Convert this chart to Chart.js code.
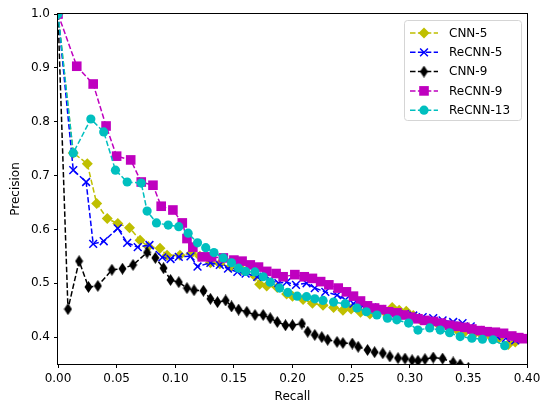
<!DOCTYPE html>
<html>
<head>
<meta charset="utf-8">
<script src="https://cdn.jsdelivr.net/npm/chart.js@4.4.0/dist/chart.umd.min.js"></script>
<style>
  html, body { margin: 0; padding: 0; background: #fff; }
  #wrap { width: 541px; height: 404px; }
</style>
</head>
<body>
<div id="wrap"><canvas id="prChart" width="541" height="404"></canvas></div>
<script>
'use strict';

// ── Data ────────────────────────────────────────────────
const xTickValues = [0, 0.05, 0.10, 0.15, 0.20, 0.25, 0.30, 0.35, 0.40];
const yTickValues = [0.4, 0.5, 0.6, 0.7, 0.8, 0.9, 1.0];

const seriesNames = ['CNN-5', 'ReCNN-5', 'CNN-9', 'ReCNN-9', 'ReCNN-13'];

const cnn5Recall = [0, 0.013, 0.025, 0.033, 0.042, 0.051, 0.061, 0.070, 0.077, 0.087, 0.093, 0.104, 0.114, 0.121, 0.130, 0.138, 0.147, 0.157, 0.168, 0.172, 0.178, 0.187, 0.195, 0.200, 0.209, 0.217, 0.226, 0.235, 0.243, 0.250, 0.258, 0.266, 0.272, 0.278, 0.285, 0.291, 0.297, 0.303, 0.309, 0.317, 0.325, 0.333, 0.340, 0.347, 0.355, 0.362, 0.369, 0.376, 0.384, 0.390];
const cnn5Precision = [1.0, 0.742, 0.722, 0.648, 0.620, 0.611, 0.603, 0.580, 0.568, 0.565, 0.552, 0.552, 0.556, 0.550, 0.538, 0.536, 0.530, 0.525, 0.513, 0.498, 0.495, 0.492, 0.480, 0.476, 0.470, 0.463, 0.459, 0.455, 0.450, 0.452, 0.446, 0.443, 0.445, 0.448, 0.455, 0.450, 0.448, 0.440, 0.432, 0.428, 0.422, 0.418, 0.414, 0.410, 0.406, 0.403, 0.401, 0.398, 0.386, 0.391];

const recnn5Recall = [0, 0.013, 0.024, 0.030, 0.039, 0.051, 0.059, 0.068, 0.078, 0.089, 0.096, 0.103, 0.113, 0.119, 0.130, 0.138, 0.145, 0.153, 0.160, 0.170, 0.181, 0.188, 0.195, 0.203, 0.212, 0.219, 0.228, 0.238, 0.245, 0.252, 0.260, 0.268, 0.275, 0.282, 0.289, 0.296, 0.303, 0.311, 0.320, 0.328, 0.337, 0.345, 0.352, 0.358, 0.366, 0.374, 0.382, 0.390];
const recnn5Precision = [1.0, 0.710, 0.688, 0.573, 0.578, 0.602, 0.575, 0.567, 0.571, 0.548, 0.545, 0.549, 0.550, 0.531, 0.538, 0.534, 0.527, 0.521, 0.518, 0.512, 0.506, 0.500, 0.502, 0.497, 0.500, 0.491, 0.484, 0.478, 0.469, 0.462, 0.458, 0.455, 0.452, 0.448, 0.446, 0.443, 0.440, 0.437, 0.435, 0.431, 0.428, 0.426, 0.420, 0.413, 0.408, 0.402, 0.398, 0.394];

const cnn9Recall = [0, 0.0085, 0.018, 0.026, 0.034, 0.046, 0.055, 0.064, 0.076, 0.083, 0.090, 0.096, 0.103, 0.110, 0.116, 0.124, 0.130, 0.136, 0.143, 0.148, 0.154, 0.161, 0.168, 0.175, 0.181, 0.187, 0.194, 0.200, 0.208, 0.213, 0.219, 0.225, 0.230, 0.238, 0.243, 0.251, 0.256, 0.264, 0.270, 0.277, 0.283, 0.290, 0.296, 0.302, 0.307, 0.313, 0.320, 0.328, 0.337, 0.343, 0.350];
const cnn9Precision = [1.0, 0.452, 0.541, 0.493, 0.495, 0.525, 0.527, 0.534, 0.557, 0.547, 0.528, 0.506, 0.502, 0.491, 0.487, 0.486, 0.471, 0.465, 0.468, 0.457, 0.451, 0.447, 0.441, 0.441, 0.435, 0.428, 0.422, 0.422, 0.425, 0.410, 0.404, 0.400, 0.395, 0.391, 0.389, 0.388, 0.382, 0.376, 0.372, 0.370, 0.364, 0.361, 0.360, 0.357, 0.356, 0.359, 0.362, 0.360, 0.353, 0.349, 0.343];

const recnn9Recall = [0, 0.016, 0.030, 0.041, 0.050, 0.062, 0.071, 0.081, 0.088, 0.098, 0.106, 0.110, 0.115, 0.123, 0.131, 0.141, 0.150, 0.157, 0.164, 0.171, 0.178, 0.186, 0.192, 0.202, 0.210, 0.217, 0.224, 0.231, 0.239, 0.246, 0.252, 0.258, 0.264, 0.270, 0.276, 0.282, 0.289, 0.295, 0.301, 0.307, 0.313, 0.320, 0.327, 0.334, 0.340, 0.347, 0.353, 0.360, 0.366, 0.373, 0.380, 0.387, 0.393, 0.397];
const recnn9Precision = [1.0, 0.903, 0.870, 0.792, 0.736, 0.729, 0.688, 0.682, 0.643, 0.636, 0.612, 0.583, 0.567, 0.549, 0.549, 0.547, 0.543, 0.541, 0.534, 0.530, 0.522, 0.518, 0.512, 0.516, 0.512, 0.509, 0.503, 0.497, 0.491, 0.484, 0.476, 0.467, 0.458, 0.454, 0.451, 0.447, 0.445, 0.441, 0.437, 0.434, 0.431, 0.429, 0.426, 0.422, 0.420, 0.418, 0.415, 0.412, 0.410, 0.409, 0.407, 0.402, 0.399, 0.397];

const recnn13Recall = [0, 0.013, 0.028, 0.039, 0.049, 0.059, 0.071, 0.076, 0.084, 0.094, 0.103, 0.111, 0.119, 0.126, 0.133, 0.141, 0.148, 0.154, 0.160, 0.168, 0.175, 0.181, 0.189, 0.196, 0.204, 0.212, 0.219, 0.226, 0.235, 0.245, 0.255, 0.263, 0.272, 0.281, 0.289, 0.299, 0.307, 0.317, 0.326, 0.334, 0.343, 0.353, 0.362, 0.371, 0.381];
const recnn13Precision = [1.0, 0.742, 0.805, 0.781, 0.710, 0.688, 0.686, 0.634, 0.612, 0.608, 0.605, 0.593, 0.575, 0.566, 0.557, 0.547, 0.538, 0.528, 0.522, 0.521, 0.512, 0.502, 0.491, 0.483, 0.476, 0.475, 0.471, 0.468, 0.465, 0.462, 0.454, 0.447, 0.441, 0.435, 0.432, 0.426, 0.413, 0.417, 0.413, 0.408, 0.401, 0.398, 0.396, 0.395, 0.384];

// ── Styles (matplotlib y / b / k / m / c) ───────────────
const FONT = "'DejaVu Sans', sans-serif";
const DASH = [5.5, 2.4];

// thin diamond marker ('d') as a small canvas
function thinDiamond(color) {
    const c = document.createElement('canvas');
    c.width = 9; c.height = 12;
    const g = c.getContext('2d');
    g.fillStyle = color;
    g.beginPath();
    g.moveTo(4.5, 0); g.lineTo(8.5, 6); g.lineTo(4.5, 12); g.lineTo(0.5, 6);
    g.closePath(); g.fill();
    return c;
}

const STYLES = [
    { color: '#bfbf00', marker: 'rectRot',  radius: 5.5, order: 4 },
    { color: '#0000ff', marker: 'crossRot', radius: 5.5, order: 3 },
    { color: '#000000', marker: thinDiamond('#000000'), radius: 6, order: 2 },
    { color: '#bf00bf', marker: 'rect',     radius: 6.8, order: 1 },
    { color: '#00bfbf', marker: 'circle',   radius: 4.6, order: 0 },
];

const toPts = (xs, ys) => xs.map((x, i) => ({ x, y: ys[i] }));
const seriesData = [
    toPts(cnn5Recall, cnn5Precision),
    toPts(recnn5Recall, recnn5Precision),
    toPts(cnn9Recall, cnn9Precision),
    toPts(recnn9Recall, recnn9Precision),
    toPts(recnn13Recall, recnn13Precision),
];

// ── Frame + legend plugin ───────────────────────────────
function drawMarker(ctx, st, x, y) {
    ctx.save();
    ctx.fillStyle = st.color;
    ctx.strokeStyle = st.color;
    ctx.lineWidth = 1.5;
    ctx.setLineDash([]);
    const r = st.radius;
    if (typeof st.marker !== 'string') {
        ctx.drawImage(st.marker, x - st.marker.width / 2, y - st.marker.height / 2);
    } else if (st.marker === 'circle') {
        ctx.beginPath(); ctx.arc(x, y, r, 0, Math.PI * 2); ctx.fill();
    } else if (st.marker === 'rect') {
        const s = r * Math.SQRT1_2;
        ctx.fillRect(x - s, y - s, 2 * s, 2 * s);
    } else if (st.marker === 'rectRot') {
        ctx.beginPath();
        ctx.moveTo(x, y - r); ctx.lineTo(x + r, y); ctx.lineTo(x, y + r); ctx.lineTo(x - r, y);
        ctx.closePath(); ctx.fill();
    } else if (st.marker === 'crossRot') {
        const s = r * Math.SQRT1_2;
        ctx.beginPath();
        ctx.moveTo(x - s, y - s); ctx.lineTo(x + s, y + s);
        ctx.moveTo(x + s, y - s); ctx.lineTo(x - s, y + s);
        ctx.stroke();
    }
    ctx.restore();
}

const frameLegend = {
    id: 'frameLegend',
    afterDraw(chart) {
        const { ctx, chartArea: a } = chart;
        ctx.save();
        ctx.strokeStyle = '#000';
        ctx.lineWidth = 1;
        ctx.strokeRect(Math.round(a.left) - 0.5, Math.round(a.top) - 0.5,
                       Math.round(a.right - a.left) + 1, Math.round(a.bottom - a.top) + 1);

        // legend box, upper right
        const bx = 404.5, by = 20.5, bw = 117, bh = 100, rr = 3;
        ctx.beginPath();
        ctx.moveTo(bx + rr, by);
        ctx.arcTo(bx + bw, by, bx + bw, by + bh, rr);
        ctx.arcTo(bx + bw, by + bh, bx, by + bh, rr);
        ctx.arcTo(bx, by + bh, bx, by, rr);
        ctx.arcTo(bx, by, bx + bw, by, rr);
        ctx.closePath();
        ctx.fillStyle = 'rgba(255,255,255,0.8)';
        ctx.fill();
        ctx.strokeStyle = '#d5d5d5';
        ctx.stroke();

        ctx.font = '12px ' + FONT;
        ctx.textBaseline = 'middle';
        ctx.textAlign = 'left';
        seriesNames.forEach((name, i) => {
            const st = STYLES[i];
            const y = 33 + i * 19.3;
            ctx.strokeStyle = st.color;
            ctx.lineWidth = 1.5;
            ctx.setLineDash(DASH);
            ctx.beginPath(); ctx.moveTo(410, y); ctx.lineTo(438, y); ctx.stroke();
            ctx.setLineDash([]);
            drawMarker(ctx, st, 424, y);
            ctx.fillStyle = '#000';
            ctx.fillText(name, 449, y + 0.5);
        });
        ctx.restore();
    }
};

// ── Chart ───────────────────────────────────────────────
const ctx = document.getElementById('prChart').getContext('2d');
new Chart(ctx, {
    type: 'scatter',
    data: {
        datasets: seriesNames.map((name, i) => ({
            label: name,
            data: seriesData[i],
            showLine: true,
            borderColor: STYLES[i].color,
            backgroundColor: STYLES[i].color,
            borderWidth: 1.5,
            borderDash: DASH,
            pointStyle: STYLES[i].marker,
            pointRadius: STYLES[i].radius,
            pointHoverRadius: STYLES[i].radius,
            pointBorderWidth: STYLES[i].marker === 'crossRot' ? 1.5 : 0,
            pointBorderColor: STYLES[i].color,
            order: STYLES[i].order,
        }))
    },
    options: {
        responsive: false, animation: false,
        layout: { padding: { top: 14, right: 14, left: 0, bottom: 0 } },
        plugins: { legend: { display: false }, tooltip: { enabled: false } },
        scales: {
            x: {
                type: 'linear', min: 0, max: 0.4,
                afterBuildTicks: s => { s.ticks = xTickValues.map(v => ({ value: v })); },
                afterFit: s => { s.height = 40; s.paddingLeft = 0; s.paddingRight = 0; },
                grid: { drawOnChartArea: false, drawTicks: true, tickLength: 4, color: '#000' },
                border: { display: false },
                ticks: { color: '#000', padding: 4, maxRotation: 0, font: { family: FONT, size: 12 },
                         callback: v => v.toFixed(2) },
                title: { display: true, text: 'Recall', color: '#000',
                         font: { family: FONT, size: 12 }, padding: { top: 0, bottom: 0 } }
            },
            y: {
                type: 'linear', min: 0.35, max: 1.0,
                afterBuildTicks: s => { s.ticks = yTickValues.map(v => ({ value: v })); },
                afterFit: s => { s.width = 58; s.paddingTop = 0; s.paddingBottom = 0; },
                grid: { drawOnChartArea: false, drawTicks: true, tickLength: 4, color: '#000' },
                border: { display: false },
                ticks: { color: '#000', padding: 4, font: { family: FONT, size: 12 },
                         callback: v => v.toFixed(1) },
                title: { display: true, text: 'Precision', color: '#000',
                         font: { family: FONT, size: 12 }, padding: { top: 9, bottom: 0 } }
            }
        }
    },
    plugins: [frameLegend]
});
</script>
</body>
</html>
